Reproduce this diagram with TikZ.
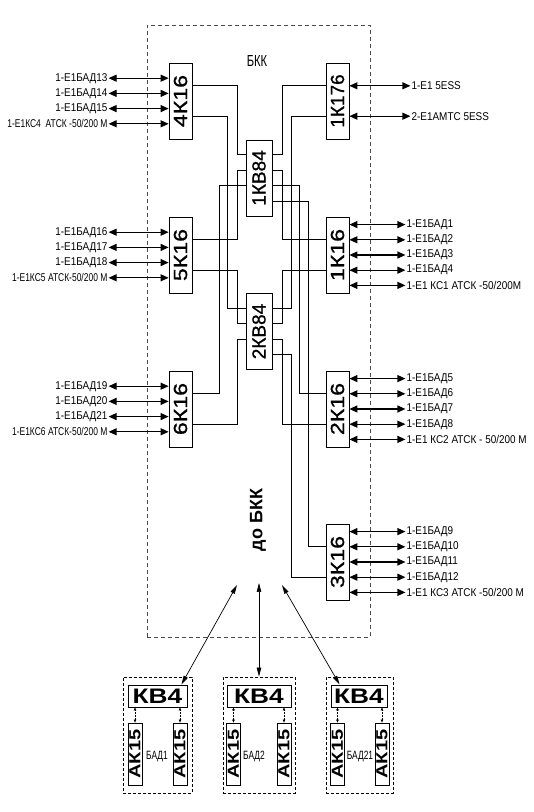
\documentclass[tikz,border=0pt]{standalone}
\usepackage{fontspec}
\usepackage{graphicx}
\usetikzlibrary{arrows.meta}
\setmainfont{Liberation Sans}
\newfontfamily\lblfont[FakeStretch=0.88]{Liberation Sans}
\newfontfamily\lblnarrow[FakeStretch=0.75]{Liberation Sans}
\newfontfamily\nrwfont[FakeStretch=0.7]{Liberation Sans}
\newfontfamily\boxfont[FakeBold=1]{Liberation Sans}
\newfontfamily\boxwide[FakeStretch=1.22,FakeBold=1]{Liberation Sans}
\newfontfamily\kvfont[FakeStretch=1.25]{Liberation Sans}
\definecolor{bkkDash}{HTML}{4A4A4A}
\newcommand{\vlab}[1]{\rotatebox{90}{\fontsize{19}{19}\selectfont\boxfont #1}}
\tikzset{
  kbox/.style={draw, line width=0.8pt, minimum width=23pt, minimum height=76pt, inner sep=0pt},
  kbbox/.style={kbox, minimum width=26pt},
  wire/.style={line width=0.7pt},
  biarrow/.style={line width=1.2pt, {Triangle[length=8pt,width=7pt]}-{Triangle[length=8pt,width=7pt]}},
  lbl/.style={font={\lblfont\fontsize{11.3}{12}\selectfont}, inner sep=1pt},
  link/.style={line width=0.7pt, {Triangle[length=9pt,width=4.5pt]}-{Triangle[length=9pt,width=4.5pt]}},
  grp/.style={draw, dash pattern=on 3pt off 2pt, line width=0.7pt, minimum height=116pt},
  kvbox/.style={draw, line width=0.8pt, minimum height=22pt, inner sep=0pt, font={\kvfont\bfseries\fontsize{21}{21}\selectfont}},
  akbox/.style={draw, line width=0.8pt, minimum width=14pt, minimum height=62pt, inner sep=0pt, font={\kvfont\bfseries\fontsize{16}{16}\selectfont}},
  tick/.style={line width=0.5pt, dash pattern=on 1.5pt off 1.5pt, {Triangle[length=3pt,width=2.5pt]}-{Triangle[length=3pt,width=2.5pt]}}
}

\begin{document}
\begin{tikzpicture}[x=1pt,y=1pt]
  \useasboundingbox (0,0) rectangle (534,812);
  % BKK frame
  \draw[bkkDash, line width=0.8pt, dash pattern=on 4pt off 3pt] (147,175) rectangle (370,787);
  \node[font={\nrwfont\fontsize{16}{16}\selectfont}] (title) at (257,751) {БКК};
  \node[font={\bfseries\fontsize{18}{18}\selectfont}, rotate=90] (tobkk) at (258,292) {до БКК};

  % boards
  \node[kbox] (k4) at (180.5,711) {\vlab{\boxwide 4К16}};
  \node[kbox] (k5) at (180.5,557) {\vlab{\boxwide 5К16}};
  \node[kbox] (k6) at (180.5,403) {\vlab{\boxwide 6К16}};
  \node[kbox] (k176) at (337.5,711) {\vlab{1К176}};
  \node[kbox] (k1) at (337.5,557) {\vlab{\boxwide 1К16}};
  \node[kbox] (k2) at (337.5,403) {\vlab{\boxwide 2К16}};
  \node[kbox] (k3) at (337.5,250) {\vlab{\boxwide 3К16}};
  \node[kbbox] (kb1) at (259,634) {\vlab{1КВ84}};
  \node[kbbox] (kb2) at (259,480.5) {\vlab{2КВ84}};

  % ports
  \foreach \bx in {k4,k5,k6}{
    \coordinate (\bx-1) at ([yshift=15.2pt]\bx.east);
    \coordinate (\bx-2) at ([yshift=-15.2pt]\bx.east);
  }
  \foreach \bx in {k176,k1,k2,k3}{
    \coordinate (\bx-1) at ([yshift=15.2pt]\bx.west);
    \coordinate (\bx-2) at ([yshift=-15.2pt]\bx.west);
  }
  \foreach \bx in {kb1,kb2}{
    \foreach \i/\s in {1/23.25,2/7.75,3/-7.75,4/-23.25}{
      \coordinate (\bx-l\i) at ([yshift=\s pt]\bx.west);
      \coordinate (\bx-r\i) at ([yshift=\s pt]\bx.east);
    }
  }
  \coordinate (cl1) at (219,0);
  \coordinate (cl2) at (227,0);
  \coordinate (cl3) at (237,0);
  \coordinate (cr1) at (282,0);
  \coordinate (cr2) at (291,0);
  \coordinate (cr3) at (299,0);
  \coordinate (cr4) at (308,0);

  % internal wiring
  \foreach \a/\c/\z in {k4-1/cl3/kb1-l1, k4-2/cl2/kb2-l1, kb1-l2/cl3/k5-1, kb1-l3/cl1/k6-1,
      k5-2/cl3/kb2-l2, kb2-l3/cl3/k6-2, k176-1/cr1/kb1-r1, k176-2/cr2/kb2-r1,
      kb1-r2/cr1/k1-1, kb1-r3/cr3/k2-1, kb1-r4/cr4/k3-1, k1-2/cr1/kb2-r2,
      kb2-r3/cr1/k2-2, kb2-r4/cr2/k3-2}
    \draw[wire] (\a) -- (\a -| \c) |- (\z);

  % left streams
  \foreach \s/\t [count=\i] in {22.8/1-E1БАД13, 7.6/1-E1БАД14, -7.6/1-E1БАД15, -22.8/{\lblnarrow 1-E1КС4\ \ АТСК -50/200 М}}{
    \node[lbl, anchor=east] (l4-\i) at ([xshift=-60pt, yshift=\s pt]k4.west) {\t};
    \draw[biarrow] (l4-\i) -- (l4-\i -| k4.west);
  }
  \foreach \s/\t [count=\i] in {22.8/1-E1БАД16, 7.6/1-E1БАД17, -7.6/1-E1БАД18, -22.8/{\lblnarrow 1-E1КС5 АТСК-50/200 М}}{
    \node[lbl, anchor=east] (l5-\i) at ([xshift=-60pt, yshift=\s pt]k5.west) {\t};
    \draw[biarrow] (l5-\i) -- (l5-\i -| k5.west);
  }
  \foreach \s/\t [count=\i] in {22.8/1-E1БАД19, 7.6/1-E1БАД20, -7.6/1-E1БАД21, -22.8/{\lblnarrow 1-E1КС6 АТСК-50/200 М}}{
    \node[lbl, anchor=east] (l6-\i) at ([xshift=-60pt, yshift=\s pt]k6.west) {\t};
    \draw[biarrow] (l6-\i) -- (l6-\i -| k6.west);
  }

  % right streams
  \foreach \s/\t [count=\i] in {15.2/1-E1 5ESS, -15.2/2-E1АМТС 5ESS}{
    \node[lbl, anchor=west] (r176-\i) at ([xshift=61pt, yshift=\s pt]k176.east) {\t};
    \draw[biarrow] (r176-\i) -- (r176-\i -| k176.east);
  }
  \foreach \s/\t [count=\i] in {30.4/1-E1БАД1, 15.2/1-E1БАД2, 0/1-E1БАД3, -15.2/1-E1БАД4, -30.4/{1-E1 КС1 АТСК -50/200М}}{
    \node[lbl, anchor=west] (r1-\i) at ([xshift=56pt, yshift=\s pt]k1.east) {\t};
    \draw[biarrow] (r1-\i) -- (r1-\i -| k1.east);
  }
  \foreach \s/\t [count=\i] in {30.4/1-E1БАД5, 15.2/1-E1БАД6, 0/1-E1БАД7, -15.2/1-E1БАД8, -30.4/{1-E1 КС2 АТСК - 50/200 М}}{
    \node[lbl, anchor=west] (r2-\i) at ([xshift=56pt, yshift=\s pt]k2.east) {\t};
    \draw[biarrow] (r2-\i) -- (r2-\i -| k2.east);
  }
  \foreach \s/\t [count=\i] in {30.4/1-E1БАД9, 15.2/1-E1БАД10, 0/1-E1БАД11, -15.2/1-E1БАД12, -30.4/{1-E1 КС3 АТСК -50/200 М}}{
    \node[lbl, anchor=west] (r3-\i) at ([xshift=56pt, yshift=\s pt]k3.east) {\t};
    \draw[biarrow] (r3-\i) -- (r3-\i -| k3.east);
  }

  % remote BAD units
  \node[grp, minimum width=69pt] (g1) at (157.5,77) {};
  \node[grp, minimum width=72pt] (g2) at (259,77) {};
  \node[grp, minimum width=67pt] (g3) at (359.5,77) {};
  \node[kvbox, minimum width=59pt] (kv1) at (157.5,116) {КВ4};
  \node[kvbox, minimum width=64pt] (kv2) at (259,116) {КВ4};
  \node[kvbox, minimum width=56pt] (kv3) at (359,116) {КВ4};
  \foreach \n/\x in {a1l/135, a1r/180, a2l/233.5, a2r/284, a3l/337.5, a3r/382}
    \node[akbox] (\n) at (\x,58) {\rotatebox{90}{АК15}};
  \foreach \n/\k in {a1l/kv1, a1r/kv1, a2l/kv2, a2r/kv2, a3l/kv3, a3r/kv3}
    \draw[tick] (\n) -- (\n |- \k.south);
  \node[font={\nrwfont\fontsize{12}{12}\selectfont}] (b1) at (157,55) {БАД1};
  \node[font={\nrwfont\fontsize{12}{12}\selectfont}] (b2) at (254,55) {БАД2};
  \node[font={\nrwfont\fontsize{12}{12}\selectfont}] (b3) at (360,55) {БАД21};

  % links to BKK
  \coordinate (t1) at (237,227);
  \coordinate (t2) at (259,229);
  \coordinate (t3) at (282,227);
  \draw[link] (t1) -- ([xshift=-6pt]kv1.north east);
  \draw[link] (t2) -- (g2.north);
  \draw[link] (t3) -- ([xshift=9pt]kv3.north west);
\end{tikzpicture}
\end{document}
